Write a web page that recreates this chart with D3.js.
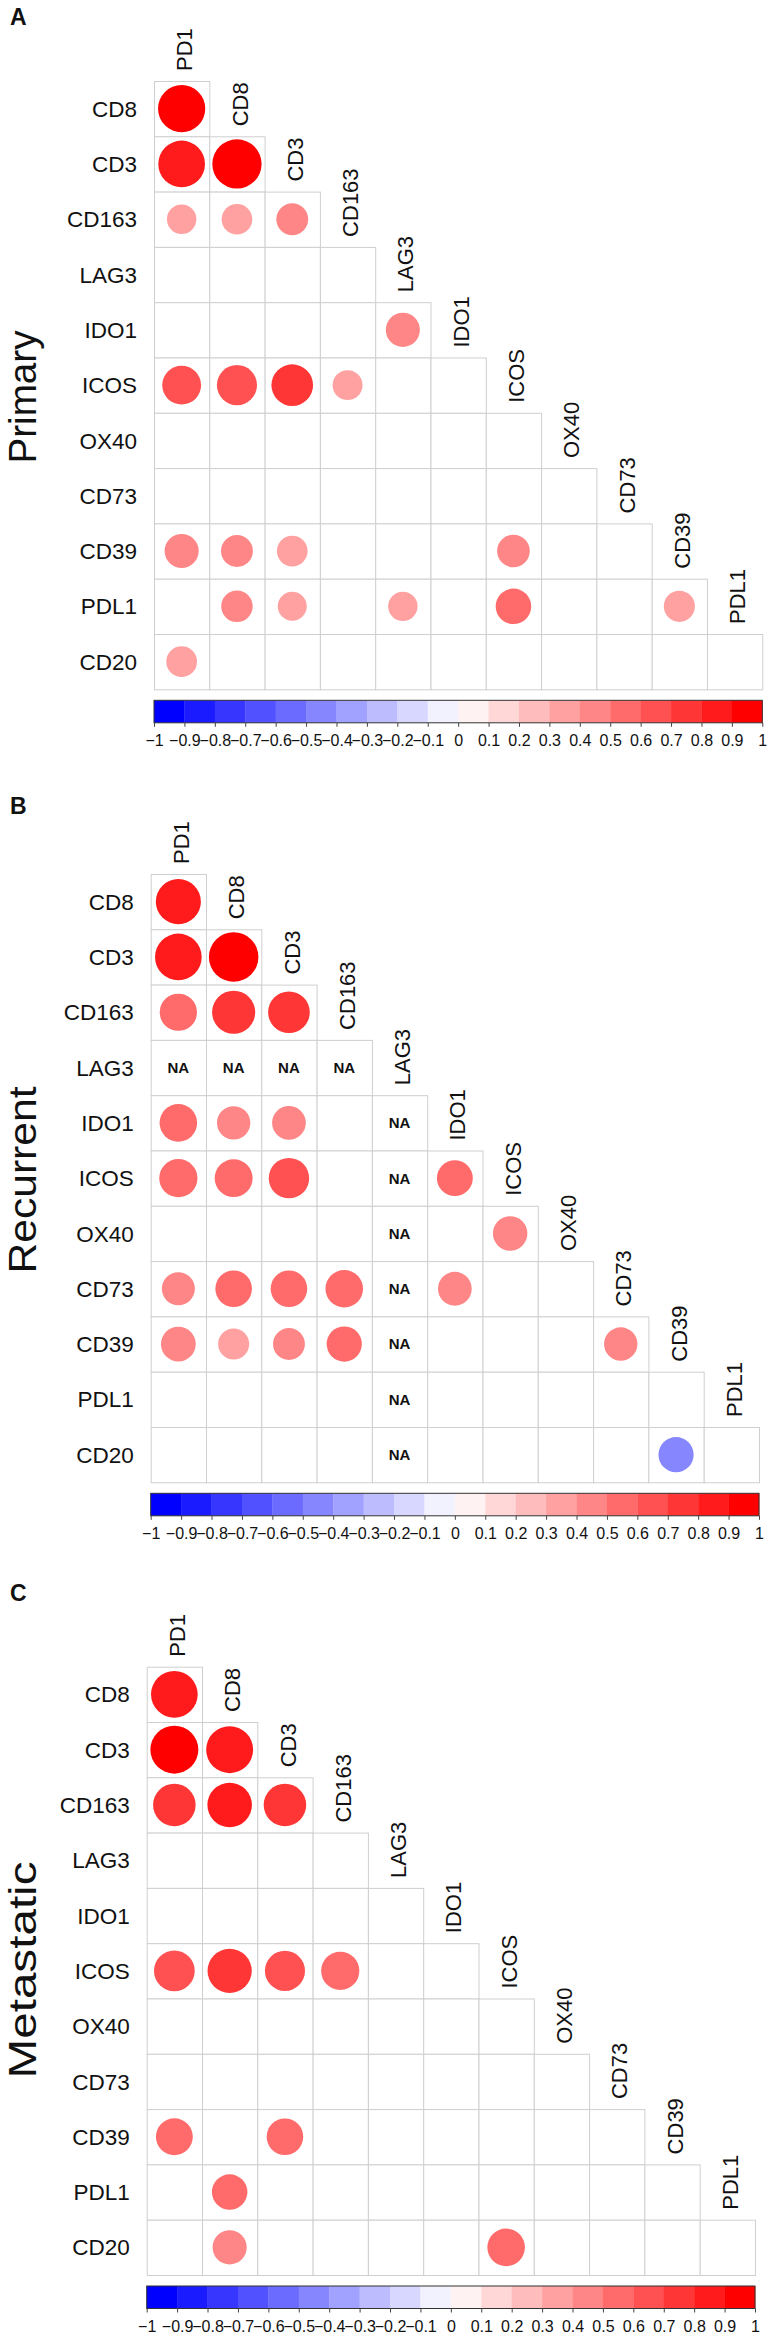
<!DOCTYPE html>
<html>
<head>
<meta charset="utf-8">
<script src="https://cdn.jsdelivr.net/npm/d3@7"></script>
<style>
  html, body { margin: 0; padding: 0; background: #fff; }
  svg { display: block; }
  text { font-family: "Liberation Sans", Arial, sans-serif; fill: #111; }
</style>
</head>
<body>
<svg id="chart" width="768" height="2345"></svg>
<script>
// ---------- data ----------
const rowLabels = ["CD8","CD3","CD163","LAG3","IDO1","ICOS","OX40","CD73","CD39","PDL1","CD20"];
const colLabels = ["PD1","CD8","CD3","CD163","LAG3","IDO1","ICOS","OX40","CD73","CD39","PDL1"];
const tickValues = [-1,-0.9,-0.8,-0.7,-0.6,-0.5,-0.4,-0.3,-0.2,-0.1,0,0.1,0.2,0.3,0.4,0.5,0.6,0.7,0.8,0.9,1];
const tickLabels = ["\u22121","\u22120.9","\u22120.8","\u22120.7","\u22120.6","\u22120.5","\u22120.4","\u22120.3","\u22120.2","\u22120.1","0","0.1","0.2","0.3","0.4","0.5","0.6","0.7","0.8","0.9","1"];
const panelLetters = ["A","B","C"];
const panelTitles = ["Primary","Recurrent","Metastatic"];
const _ = null, NA = "NA";

// lower-triangular correlation matrices (row i has i+1 entries; null = not shown)
const primaryValues = [
  [0.90],
  [0.88, 0.98],
  [0.35, 0.38, 0.41],
  [_, _, _, _],
  [_, _, _, _, 0.47],
  [0.61, 0.65, 0.70, 0.36, _, _],
  [_, _, _, _, _, _, _],
  [_, _, _, _, _, _, _, _],
  [0.47, 0.41, 0.38, _, _, _, 0.43, _, _],
  [_, 0.40, 0.34, _, 0.35, _, 0.51, _, _, 0.39],
  [0.38, _, _, _, _, _, _, _, _, _, _]
];
const recurrentValues = [
  [0.82],
  [0.88, 0.99],
  [0.56, 0.75, 0.70],
  [NA, NA, NA, NA],
  [0.57, 0.45, 0.46, _, NA],
  [0.59, 0.58, 0.66, _, NA, 0.52],
  [_, _, _, _, NA, _, 0.48],
  [0.44, 0.54, 0.54, 0.57, NA, 0.46, _, _],
  [0.49, 0.39, 0.41, 0.50, NA, _, _, _, 0.45],
  [_, _, _, _, NA, _, _, _, _, _],
  [_, _, _, _, NA, _, _, _, _, -0.50, _]
];
const metastaticValues = [
  [0.88],
  [0.93, 0.89],
  [0.73, 0.80, 0.73],
  [_, _, _, _],
  [_, _, _, _, _],
  [0.67, 0.79, 0.65, 0.59, _, _],
  [_, _, _, _, _, _, _],
  [_, _, _, _, _, _, _, _],
  [0.55, _, 0.54, _, _, _, _, _, _],
  [_, 0.51, _, _, _, _, _, _, _, _],
  [_, 0.47, _, _, _, _, 0.57, _, _, _, _]
];
const panelValues = [primaryValues, recurrentValues, metastaticValues];

// ---------- layout ----------
const panels = [
  {gx: 154,   gy: 81,    letterY: 24,   titleY: 397,  titleLen: 133},
  {gx: 150.7, gy: 874,   letterY: 813,  titleY: 1180, titleLen: 187},
  {gx: 146.7, gy: 1666.7,letterY: 1600, titleY: 1970, titleLen: 217}
];
const cell = 55.3;
const n = rowLabels.length;

// colour palette (20 bins, blue-white-red)
const ramp = d3.piecewise(d3.interpolateRgb, ["#0000FF", "#FFFFFF", "#FF0000"]);
const palette = d3.range(20).map(k => ramp(k / 19));
const binOf = v => Math.max(0, Math.min(19, Math.floor((v + 1) / 0.1 + 1e-9)));
const colorOf = v => palette[binOf(v)];

const svg = d3.select("#chart");

panels.forEach((p, pi) => {
  const values = panelValues[pi];
  const g = svg.append("g");
  const x = d3.scaleBand().domain(colLabels).range([p.gx, p.gx + n * cell]).padding(0);
  const y = d3.scaleBand().domain(rowLabels).range([p.gy, p.gy + n * cell]).padding(0);
  const rScale = d3.scaleSqrt().domain([0, 1]).range([0, cell * 0.45]);

  // cells
  const cells = [];
  values.forEach((row, i) => row.forEach((v, j) => cells.push({i, j, v})));
  g.selectAll("rect.cell").data(cells).join("rect")
    .attr("class", "cell")
    .attr("x", d => x(colLabels[d.j]) + 0.5)
    .attr("y", d => y(rowLabels[d.i]) + 0.5)
    .attr("width", x.bandwidth())
    .attr("height", y.bandwidth())
    .attr("fill", "#fff")
    .attr("stroke", "#cfcfcf")
    .attr("stroke-width", 1);

  // circles
  g.selectAll("circle").data(cells.filter(d => typeof d.v === "number")).join("circle")
    .attr("cx", d => x(colLabels[d.j]) + x.bandwidth() / 2)
    .attr("cy", d => y(rowLabels[d.i]) + y.bandwidth() / 2)
    .attr("r", d => rScale(Math.abs(d.v)))
    .attr("fill", d => colorOf(d.v));

  // NA labels
  g.selectAll("text.na").data(cells.filter(d => d.v === NA)).join("text")
    .attr("class", "na")
    .attr("x", d => x(colLabels[d.j]) + x.bandwidth() / 2)
    .attr("y", d => y(rowLabels[d.i]) + y.bandwidth() / 2)
    .attr("dy", "0.36em")
    .attr("text-anchor", "middle")
    .attr("font-weight", "bold")
    .attr("font-size", 15)
    .text("NA");

  // row labels
  g.selectAll("text.rowlab").data(rowLabels).join("text")
    .attr("class", "rowlab")
    .attr("x", p.gx - 17)
    .attr("y", d => y(d) + y.bandwidth() / 2)
    .attr("dy", "0.36em")
    .attr("text-anchor", "end")
    .attr("font-size", 22.5)
    .text(d => d);

  // column labels (rotated)
  g.selectAll("text.collab").data(colLabels).join("text")
    .attr("class", "collab")
    .attr("transform", (d, j) => `translate(${x(d) + x.bandwidth() / 2},${y(rowLabels[j]) - 10}) rotate(-90)`)
    .attr("dy", "0.48em")
    .attr("text-anchor", "start")
    .attr("font-size", 22)
    .text(d => d);

  // colour bar
  const barY = p.gy + n * cell + 11;
  const barH = 22.5;
  const cx = d3.scaleLinear().domain([-1, 1]).range([p.gx, p.gx + n * cell]);
  g.selectAll("rect.bar").data(palette).join("rect")
    .attr("class", "bar")
    .attr("x", (c, k) => cx(-1 + k * 0.1))
    .attr("y", barY)
    .attr("width", (c, k) => cx(-1 + (k + 1) * 0.1) - cx(-1 + k * 0.1) + 0.3)
    .attr("height", barH)
    .attr("fill", c => c);
  g.append("rect")
    .attr("x", cx(-1)).attr("y", barY)
    .attr("width", cx(1) - cx(-1)).attr("height", barH)
    .attr("fill", "none").attr("stroke", "#333").attr("stroke-width", 1);

  const axis = d3.axisBottom(cx)
    .tickValues(tickValues)
    .tickSize(4)
    .tickPadding(8)
    .tickFormat((d, k) => tickLabels[k]);
  const ax = g.append("g").attr("transform", `translate(0,${barY + barH})`).call(axis);
  ax.select(".domain").remove();
  ax.selectAll(".tick line").attr("stroke", "#444");
  ax.selectAll(".tick text")
    .attr("font-family", "'Liberation Sans', Arial, sans-serif")
    .attr("font-size", 16)
    .attr("fill", "#111");

  // panel letter
  g.append("text")
    .attr("x", 10).attr("y", p.letterY + 1)
    .attr("font-size", 23).attr("font-weight", "bold")
    .text(panelLetters[pi]);

  // side title
  g.append("text")
    .attr("transform", `translate(36,${p.titleY}) rotate(-90)`)
    .attr("text-anchor", "middle")
    .attr("font-size", 39)
    .attr("textLength", p.titleLen)
    .attr("lengthAdjust", "spacingAndGlyphs")
    .text(panelTitles[pi]);
});
</script>
</body>
</html>
